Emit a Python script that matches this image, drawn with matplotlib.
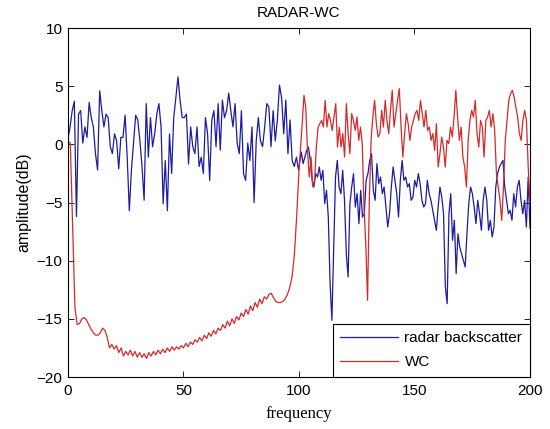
import numpy as np
import matplotlib
matplotlib.use("Agg")
import matplotlib.pyplot as plt

# radar backscatter, 0-100 and 100-200 (dB)
radar_lo = [0.5, 1.5, 2.9, 3.7, -6.2, 2.6, 2.9, 0.1, 1.5, 0.6, 3.6, 2.3, 1.5, -0.8, -2.2,
            4.6, 2.9, 1.5, 2.6, 2.3, -0.2, -0.8, 0.9, 0.3, -2.1, 0.6, 0.6, 2.5, -1.1, -5.7,
            -2.2, 0.1, 2.5, 2.1, 0.3, -1.9, -4.8, 3.5, -1.1, 2.3, -0.2, 0.9, 2.6, 3.5, 1.5,
            -5.1, -1.4, -5.7, 0.9, -2.5, 2.3, 4.0, 5.8, 3.8, 2.3, 2.3, 2.6, -1.7, 1.5, -0.2,
            -0.8, 1.5, -1.9, -1.1, -2.5, 2.3, 0.9, -3.1, 2.1, 2.9, -0.2, 3.5, -0.5, 3.8, 2.3,
            2.9, 4.4, 2.9, 1.5, 3.5, 0.1, -0.8, 2.9, -2.5, -3.1, 0.1, -1.4, 1.5, -5.0, 0.3,
            2.3, 0.3, -0.2, 1.5, 3.5, 3.2, -0.2, 2.9, 0.3, 2.1, 5.1, 4.0, 0.9, 3.8, -0.8,
            2.1, -1.4, -1.9, -1.1, -2.2]
radar_hi = [-0.66, -1.66, -1.09, -0.52, -0.23, -1.38, -3.09, -3.67, -2.52, -2.81, -1.95,
            -3.09, -2.23, -5.1, -3.95, -6.25, -11.98, -15.13, -9.11, -2.81, -1.38, -3.67,
            -4.24, -2.23, -4.81, -9.4, -11.4, -5.1, -3.67, -2.52, -5.39, -4.24, -6.82, -3.95,
            -6.25, -5.96, -3.09, -2.52, -1.38, -0.8, -3.95, -4.81, -1.66, -3.38, -2.81, -4.24,
            -3.67, -5.39, -7.11, -5.96, -3.67, -1.95, -3.09, -4.24, -6.25, -3.09, -1.38, -3.09,
            -2.81, -3.67, -3.38, -4.81, -4.53, -3.09, -3.67, -2.52, -3.38, -4.81, -5.39, -5.1,
            -3.09, -4.24, -4.81, -5.67, -6.53, -7.39, -5.39, -3.67, -4.53, -5.96, -12.26, -13.7,
            -5.96, -4.24, -8.25, -6.53, -11.12, -7.68, -8.83, -9.4, -9.97, -10.54, -7.68, -5.1,
            -3.67, -4.24, -5.39, -6.82, -4.81, -5.96, -7.39, -4.81, -3.67, -4.81, -7.39, -6.53,
            -7.97, -7.11, -3.67, -2.52, -1.95, -1.66, -1.38, -3.67, -4.81, -5.96, -5.67, -6.53,
            -4.24, -5.39, -3.67, -3.09, -4.81, -5.96, -4.81, -7.11, -2.81, -7.2]

# WC, 0-100 and 100-200
wc_lo = [0.3, 0.1, -7.0, -14.0, -15.5, -15.4, -15.0, -14.9, -15.1, -15.5, -15.9, -16.2,
         -16.4, -16.4, -16.2, -15.8, -16.0, -16.6, -17.5, -17.2, -17.6, -17.3, -17.9, -17.5,
         -18.2, -17.8, -18.1, -17.7, -18.2, -17.8, -18.3, -17.9, -18.3, -18.0, -18.4, -17.9,
         -18.2, -17.8, -18.1, -17.7, -18.0, -17.6, -17.9, -17.5, -17.8, -17.4, -17.7, -17.4,
         -17.6, -17.3, -17.5, -17.1, -17.4, -17.0, -17.2, -16.8, -17.0, -16.6, -16.9, -16.4,
         -16.7, -16.2, -16.5, -16.0, -16.3, -15.8, -16.0, -15.5, -15.8, -15.2, -15.6, -15.0,
         -15.4, -14.8, -15.1, -14.5, -14.8, -14.2, -14.6, -13.9, -14.3, -13.6, -14.0, -13.3,
         -13.7, -13.1, -13.3, -12.9, -12.8, -13.2, -13.5, -13.6, -13.6, -13.5, -13.3, -12.9,
         -12.3, -11.4, -9.5, -6.2, -2.3]
wc_hi = [1.78, 4.21, 3.21, -0.52, -2.81, -1.09, -3.67, -3.09, -0.23, 1.49, 1.78, 2.06, 1.49,
         3.78, 1.49, 2.64, 2.06, 1.2, 2.35, 3.5, -0.23, 1.49, -0.23, 0.92, -1.09, 3.5, 0.92,
         -0.8, 2.64, 2.06, 1.2, 2.35, 0.34, 1.49, 0.06, -5.39, -8.54, -13.41, -4.81, 0.34,
         2.35, 3.78, 1.78, 0.63, 0.92, 2.92, 1.49, 3.78, 2.06, 0.92, 2.92, 4.64, 1.49, 2.64,
         3.78, 4.79, 1.49, -1.09, 0.92, 2.64, 1.78, 0.34, 1.49, 2.06, 2.64, 2.92, 2.06, 3.78,
         2.64, 1.49, 2.92, 1.2, 1.49, 0.34, 0.92, -0.52, 1.78, -1.95, -0.8, 0.63, -0.23, -1.95,
         0.34, 0.06, 1.49, 0.63, 2.35, 4.64, 2.35, 0.34, 1.49, -1.09, -1.95, -3.67, 0.34, 2.06,
         2.92, 2.35, 3.78, 0.92, -0.23, 2.06, 1.49, -1.09, 2.06, 2.35, 2.92, 1.49, 2.64, 1.2,
         -2.52, -3.67, -4.81, -6.53, -3.67, 0.34, 2.06, 3.78, 4.36, 4.64, 4.07, 3.21, 2.35,
         0.92, 0.34, 2.06, 2.92, 2.06, -1.95, -5.0]

radar = np.array(radar_lo + radar_hi)
radar_f = np.concatenate([np.linspace(0, 99.8, len(radar_lo)),
                          np.linspace(101, 200, len(radar_hi))])
wc = np.array(wc_lo + wc_hi)
wc_f = np.concatenate([np.linspace(0, 100, len(wc_lo)),
                       np.linspace(101.4, 200, len(wc_hi))])

plt.rcParams['font.family'] = ['Liberation Sans', 'DejaVu Sans']

fig = plt.figure(figsize=(5.5, 4.29), dpi=100)
ax = fig.add_axes([0.1236, 0.1212, 0.84, 0.8135])

ax.plot(radar_f, radar, color='#1c1ca0', linewidth=0.9, label='radar backscatter')
ax.plot(wc_f, wc, color='#d42a2a', linewidth=0.9, label='WC')

ax.set_xlim(0, 200)
ax.set_ylim(-20, 10)
ax.set_xticks([0, 50, 100, 150, 200])
ax.set_yticks([-20, -15, -10, -5, 0, 5, 10])
ax.tick_params(direction='in', top=True, right=True, labelsize=11, length=4, width=0.6)
ax.tick_params(axis='x', pad=5)
ax.tick_params(axis='y', pad=4)
for s in ax.spines.values():
    s.set_linewidth(0.8)

ax.set_title('RADAR-WC', fontsize=11, pad=8)
ax.set_xlabel('frequency', fontsize=12, family=['Liberation Serif', 'DejaVu Serif'],
              labelpad=6)
ax.set_ylabel('amplitude(dB)', fontsize=11.5, labelpad=4)

leg = ax.legend(loc='lower right', borderaxespad=0, fontsize=11, handlelength=3.8,
                handletextpad=0.4, labelspacing=0.65, fancybox=False, framealpha=1,
                edgecolor='black', borderpad=0.5)
leg.get_frame().set_linewidth(0.8)

fig.savefig('out.png', dpi=100)
